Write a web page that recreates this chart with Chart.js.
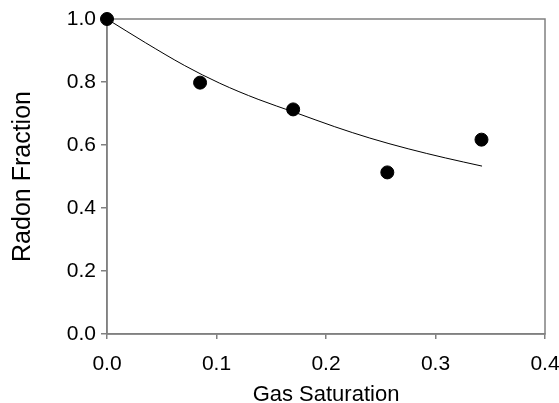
<!DOCTYPE html>
<html>
<head>
<meta charset="utf-8">
<script src="https://cdn.jsdelivr.net/npm/chart.js@4"></script>
<style>
  html, body { margin: 0; padding: 0; background: #ffffff; }
  #wrap { width: 559px; height: 403px; }
</style>
</head>
<body>
<div id="wrap"><canvas id="c" width="559" height="403"></canvas></div>
<script>
// Measured data points
const gasSaturation = [0.0, 0.085, 0.170, 0.256, 0.342];
const radonFraction = [1.000, 0.798, 0.713, 0.513, 0.617];

// Fitted curve
const fitX = [0.0, 0.035, 0.071, 0.103, 0.138, 0.172, 0.208, 0.240, 0.275, 0.309, 0.3425];
const fitY = [1.000, 0.925, 0.852, 0.796, 0.745, 0.703, 0.658, 0.622, 0.588, 0.559, 0.533];

// Axis ticks
const xTicks = [0.0, 0.1, 0.2, 0.3, 0.4];
const yTicks = [0.0, 0.2, 0.4, 0.6, 0.8, 1.0];

const FONT = "'Liberation Sans', Arial, Helvetica, sans-serif";
const GRAY = '#808080';

const framePlugin = {
  id: 'frame',
  beforeDatasetsDraw(chart) {
    const a = chart.chartArea, ctx = chart.ctx;
    ctx.save();
    ctx.strokeStyle = GRAY;
    ctx.lineWidth = 1.5;
    ctx.strokeRect(a.left, a.top, a.right - a.left, a.bottom - a.top);
    ctx.restore();
  }
};

new Chart(document.getElementById('c'), {
  type: 'scatter',
  data: {
    datasets: [
      {
        label: 'Data',
        data: gasSaturation.map((x, i) => ({ x: x, y: radonFraction[i] })),
        backgroundColor: '#000000',
        borderColor: '#000000',
        pointRadius: 6.5,
        pointHoverRadius: 6.5,
        showLine: false,
        clip: false,
        order: 0
      },
      {
        label: 'Fit',
        data: fitX.map((x, i) => ({ x: x, y: fitY[i] })),
        showLine: true,
        borderColor: '#000000',
        borderWidth: 1,
        pointRadius: 0,
        cubicInterpolationMode: 'monotone',
        clip: false,
        order: 1
      }
    ]
  },
  options: {
    responsive: false,
    animation: false,
    layout: { padding: { left: 0, right: 14, top: 19, bottom: 0 } },
    plugins: { legend: { display: false }, tooltip: { enabled: false } },
    scales: {
      x: {
        type: 'linear',
        min: 0, max: 0.4,
        afterBuildTicks(scale) { scale.ticks = xTicks.map(v => ({ value: v })); },
        afterFit(scale) { scale.height = 69; scale.paddingLeft = 0; scale.paddingRight = 0; },
        border: { display: true, color: GRAY, width: 1.5 },
        grid: { drawOnChartArea: false, drawTicks: true, tickLength: 5, color: GRAY, lineWidth: 1.5 },
        ticks: {
          color: '#000000', padding: 13, maxRotation: 0,
          font: { family: FONT, size: 21 },
          callback: v => Number(v).toFixed(1)
        },
        title: {
          display: true, text: 'Gas Saturation', color: '#000000',
          font: { family: FONT, size: 22, lineHeight: 0.7 },
          padding: { top: 0, bottom: 0 }
        }
      },
      y: {
        type: 'linear',
        min: 0, max: 1.0,
        afterBuildTicks(scale) { scale.ticks = yTicks.map(v => ({ value: v })); },
        afterFit(scale) { scale.width = 107; scale.paddingTop = 0; scale.paddingBottom = 0; },
        border: { display: true, color: GRAY, width: 1.5 },
        grid: { drawOnChartArea: false, drawTicks: true, tickLength: 6, color: GRAY, lineWidth: 1.5 },
        ticks: {
          color: '#000000', padding: 5,
          font: { family: FONT, size: 21 },
          callback: v => Number(v).toFixed(1)
        },
        title: {
          display: true, text: 'Radon Fraction', color: '#000000',
          font: { family: FONT, size: 25, lineHeight: 1.2 },
          padding: { top: 8, bottom: 0 }
        }
      }
    }
  },
  plugins: [framePlugin]
});
</script>
</body>
</html>
